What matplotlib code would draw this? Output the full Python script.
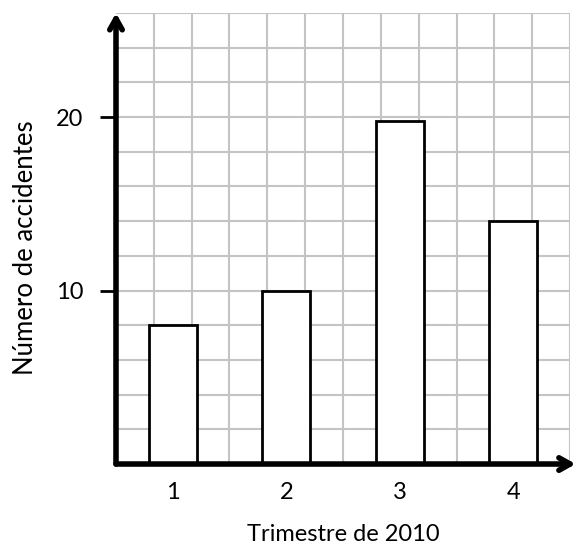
import matplotlib.pyplot as plt
import numpy as np

plt.rcParams['font.family'] = ['Lato', 'DejaVu Sans']

trimestres = ["1", "2", "3", "4"]
accidentes = [8, 10, 19.8, 14]
y_ticks = [10, 20]

fig = plt.figure(figsize=(5.82, 5.47), dpi=100)
ax = fig.add_axes([0.1993, 0.1517, 0.7801, 0.8245])

# cuadricula: 12 columnas, filas de 2 en 2
ax.set_xlim(0, 12)
ax.set_ylim(0, 26)
for xv in np.arange(1, 13):
    ax.axvline(xv, color="#c4c4c4", lw=1.5, zorder=0)
for yv in np.arange(2, 27, 2):
    ax.axhline(yv, color="#c4c4c4", lw=1.5, zorder=0)

pos = 1.5 + 3 * np.arange(len(trimestres))
ax.bar(pos, accidentes, width=1.27, color="white", edgecolor="black",
       linewidth=2, zorder=2)

for s in ax.spines.values():
    s.set_visible(False)

# ejes con flecha
flecha = dict(arrowstyle="->,head_length=0.8,head_width=0.45",
              lw=4, color="black", shrinkA=0, shrinkB=0)
ax.annotate("", xy=(0, 26), xytext=(0, 0), arrowprops=flecha,
            annotation_clip=False, zorder=5)
ax.annotate("", xy=(12.15, 0), xytext=(0, 0), arrowprops=flecha,
            annotation_clip=False, zorder=5)

ax.set_xticks(pos)
ax.set_xticklabels(trimestres, fontsize=17)
ax.tick_params(axis="x", length=0, pad=13)
ax.set_yticks(y_ticks)
ax.set_yticklabels([str(v) for v in y_ticks], fontsize=17)
ax.tick_params(axis="y", length=11.5, width=2, pad=12)

ax.set_xlabel("Trimestre de 2010", fontsize=17, labelpad=15)
ax.set_ylabel("Número de accidentes", fontsize=18.5)
ax.yaxis.set_label_coords(-0.172, 0.479)

fig.savefig("out.png", dpi=100)
